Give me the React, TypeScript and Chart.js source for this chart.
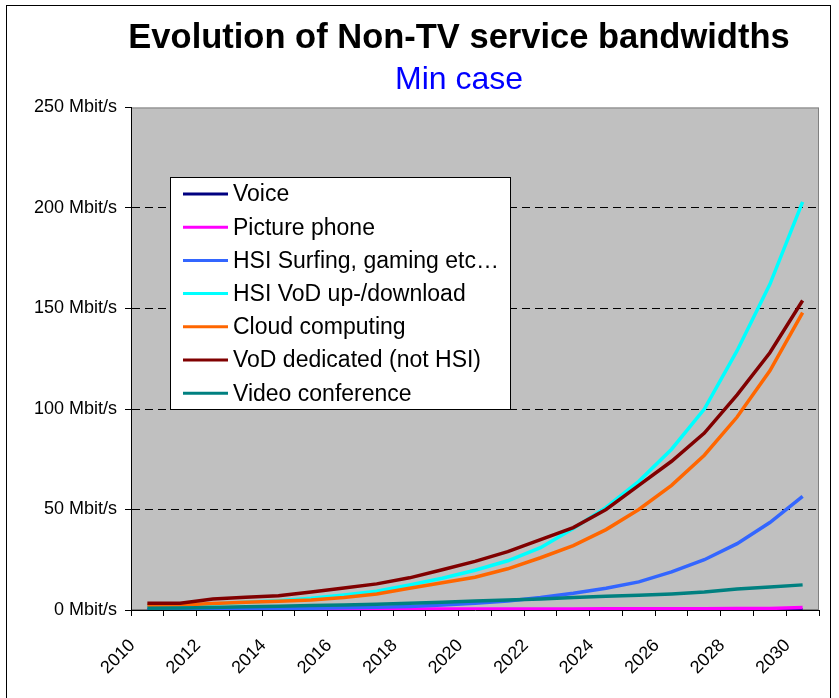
import React, { useEffect, useRef } from "react";
import { Chart, registerables } from "chart.js";

Chart.register(...registerables);

const years = [
  "2010", "2011", "2012", "2013", "2014", "2015", "2016", "2017", "2018", "2019", "2020",
  "2021", "2022", "2023", "2024", "2025", "2026", "2027", "2028", "2029", "2030",
];

const seriesNames = [
  "Voice",
  "Picture phone",
  "HSI Surfing, gaming etc…",
  "HSI VoD up-/download",
  "Cloud computing",
  "VoD dedicated (not HSI)",
  "Video conference",
];

const voice = [0.1, 0.1, 0.1, 0.1, 0.1, 0.1, 0.1, 0.1, 0.1, 0.1, 0.1, 0.1, 0.1, 0.1, 0.1, 0.1, 0.1, 0.1, 0.1, 0.1, 0.1];
const picturePhone = [0.2, 0.2, 0.3, 0.3, 0.3, 0.4, 0.4, 0.4, 0.5, 0.5, 0.5, 0.5, 0.5, 0.5, 0.6, 0.6, 0.6, 0.6, 0.7, 0.8, 1.2];
const hsiSurfing = [0.3, 0.4, 0.5, 0.6, 0.7, 0.9, 1.1, 1.4, 1.8, 2.5, 3.3, 4.5, 6.2, 8.3, 10.8, 14, 19, 25, 33, 43.5, 56.5];
const hsiVod = [2, 2.2, 3, 3.8, 4.6, 5.8, 7.5, 9.3, 12.4, 15.8, 19.8, 24.5, 31, 40.5, 51, 64, 80, 100, 129, 162, 203];
const cloud = [2.4, 2.5, 3.2, 3.8, 4.3, 5, 6.2, 8, 10.8, 13.6, 16.3, 20.5, 26, 32, 40, 50, 62, 77, 96, 119, 148];
const vodDedicated = [3.3, 3.4, 5.5, 6.3, 7.1, 8.9, 11, 13, 16, 20, 24.2, 29, 35, 41, 50, 62, 74, 88, 107, 128, 154];
const videoConf = [0.9, 1, 1.3, 1.6, 1.9, 2.2, 2.5, 2.9, 3.3, 3.8, 4.5, 5, 5.5, 6.2, 6.8, 7.3, 8, 9, 10.4, 11.4, 12.5];

const seriesValues = [voice, picturePhone, hsiSurfing, hsiVod, cloud, vodDedicated, videoConf];
const seriesColors = ["#000080", "#FF00FF", "#3366FF", "#00FFFF", "#FF6600", "#800000", "#008080"];

const yTicks = [0, 50, 100, 150, 200, 250];

const FONT = "'Liberation Sans', Arial, sans-serif";

export default function App() {
  const ref = useRef<HTMLCanvasElement>(null);

  useEffect(() => {
    if (!ref.current) return;

    const plotBg = {
      id: "plotBg",
      afterLayout(chart: any) {
        // let the y tick labels extend to the left of the (narrow) axis box
        const y = chart.scales.y;
        if (y) y.left = 0;
      },
      beforeDraw(chart: any) {
        const { ctx, chartArea: a } = chart;
        ctx.save();
        ctx.fillStyle = "#C0C0C0";
        ctx.fillRect(a.left, a.top, a.right - a.left, a.bottom - a.top);
        ctx.strokeStyle = "#808080";
        ctx.lineWidth = 1;
        ctx.strokeRect(a.left + 0.5, a.top + 0.5, a.right - a.left - 1, a.bottom - a.top - 1);
        ctx.restore();
      },
    };

    const boxLegend = {
      id: "boxLegend",
      afterDraw(chart: any) {
        const { ctx, chartArea: a } = chart;
        const x = Math.round(a.left + 39);
        const y = Math.round(a.top + 69);
        const w = 340;
        const h = 232;
        ctx.save();
        ctx.fillStyle = "#FFFFFF";
        ctx.fillRect(x, y, w, h);
        ctx.strokeStyle = "#000000";
        ctx.lineWidth = 1;
        ctx.strokeRect(x + 0.5, y + 0.5, w, h);
        ctx.font = `23px ${FONT}`;
        ctx.textBaseline = "middle";
        ctx.textAlign = "left";
        chart.data.datasets.forEach((ds: any, i: number) => {
          const cy = y + 17 + i * 33.2;
          ctx.strokeStyle = ds.borderColor;
          ctx.lineWidth = 3;
          ctx.beginPath();
          ctx.moveTo(x + 13, cy);
          ctx.lineTo(x + 58, cy);
          ctx.stroke();
          ctx.fillStyle = "#000000";
          ctx.fillText(ds.label, x + 63, cy + 1);
        });
        ctx.restore();
      },
    };

    const chart = new Chart(ref.current, {
      type: "line",
      data: {
        labels: years,
        datasets: seriesNames.map((name, i) => ({
          label: name,
          data: seriesValues[i],
          borderColor: seriesColors[i],
          backgroundColor: seriesColors[i],
          borderWidth: 3.5,
          pointRadius: 0,
          tension: 0,
          fill: false,
          order: seriesNames.length - i,
        })),
      },
      options: {
        animation: false,
        responsive: false,
        maintainAspectRatio: false,
        layout: { padding: { left: 99, right: 20, top: 0, bottom: 0 } },
        plugins: {
          legend: { display: false },
          tooltip: { enabled: false },
          title: {
            display: true,
            text: "Evolution of Non-TV service bandwidths",
            color: "#000000",
            font: { family: FONT, size: 34.5, weight: "bold" },
            padding: { top: 17.5, bottom: 0 },
          },
          subtitle: {
            display: true,
            text: "Min case",
            color: "#0000FF",
            font: { family: FONT, size: 32, weight: "normal" },
            padding: { top: 2, bottom: 8.2 },
          },
        },
        scales: {
          x: {
            type: "category",
            offset: true,
            afterFit: (scale: any) => {
              scale.height = 88;
            },
            grid: {
              offset: true,
              drawOnChartArea: false,
              drawTicks: true,
              tickLength: 6,
              tickColor: "#000000",
              color: "#000000",
            },
            border: { display: true, color: "#000000", width: 1 },
            ticks: {
              autoSkip: false,
              minRotation: 45,
              maxRotation: 45,
              padding: 19,
              labelOffset: -15,
              color: "#000000",
              font: { family: FONT, size: 18 },
              callback: (_v: any, i: number) => (i % 2 === 0 ? years[i] : ""),
            },
          },
          y: {
            min: yTicks[0],
            max: yTicks[yTicks.length - 1],
            afterFit: (scale: any) => {
              scale.width = 32;
            },
            afterBuildTicks: (scale: any) => {
              scale.ticks = yTicks.map((v) => ({ value: v }));
            },
            grid: {
              drawTicks: true,
              tickLength: 6,
              tickColor: "#000000",
              tickBorderDash: [],
              color: (c: any) =>
                c.tick && (c.tick.value === 0 || c.tick.value === 250) ? "rgba(0,0,0,0)" : "#000000",
              lineWidth: 1,
            },
            border: { display: true, color: "#000000", width: 1, dash: [8, 5] },
            ticks: {
              padding: 8,
              color: "#000000",
              font: { family: FONT, size: 18 },
              callback: (v: any) => `${v} Mbit/s`,
            },
          },
        },
      },
      plugins: [plotBg, boxLegend],
    });

    return () => chart.destroy();
  }, []);

  return (
    <div
      style={{
        position: "absolute",
        left: 0,
        top: 0,
        width: 839,
        height: 698,
        overflow: "hidden",
        background: "#FFFFFF",
      }}
    >
      <div
        style={{
          position: "absolute",
          left: 6,
          top: 5,
          width: 825,
          height: 720,
          border: "1px solid #000000",
          boxSizing: "border-box",
        }}
      />
      <canvas
        ref={ref}
        width={839}
        height={698}
        style={{ position: "absolute", left: 0, top: 0, width: 839, height: 698 }}
      />
    </div>
  );
}
